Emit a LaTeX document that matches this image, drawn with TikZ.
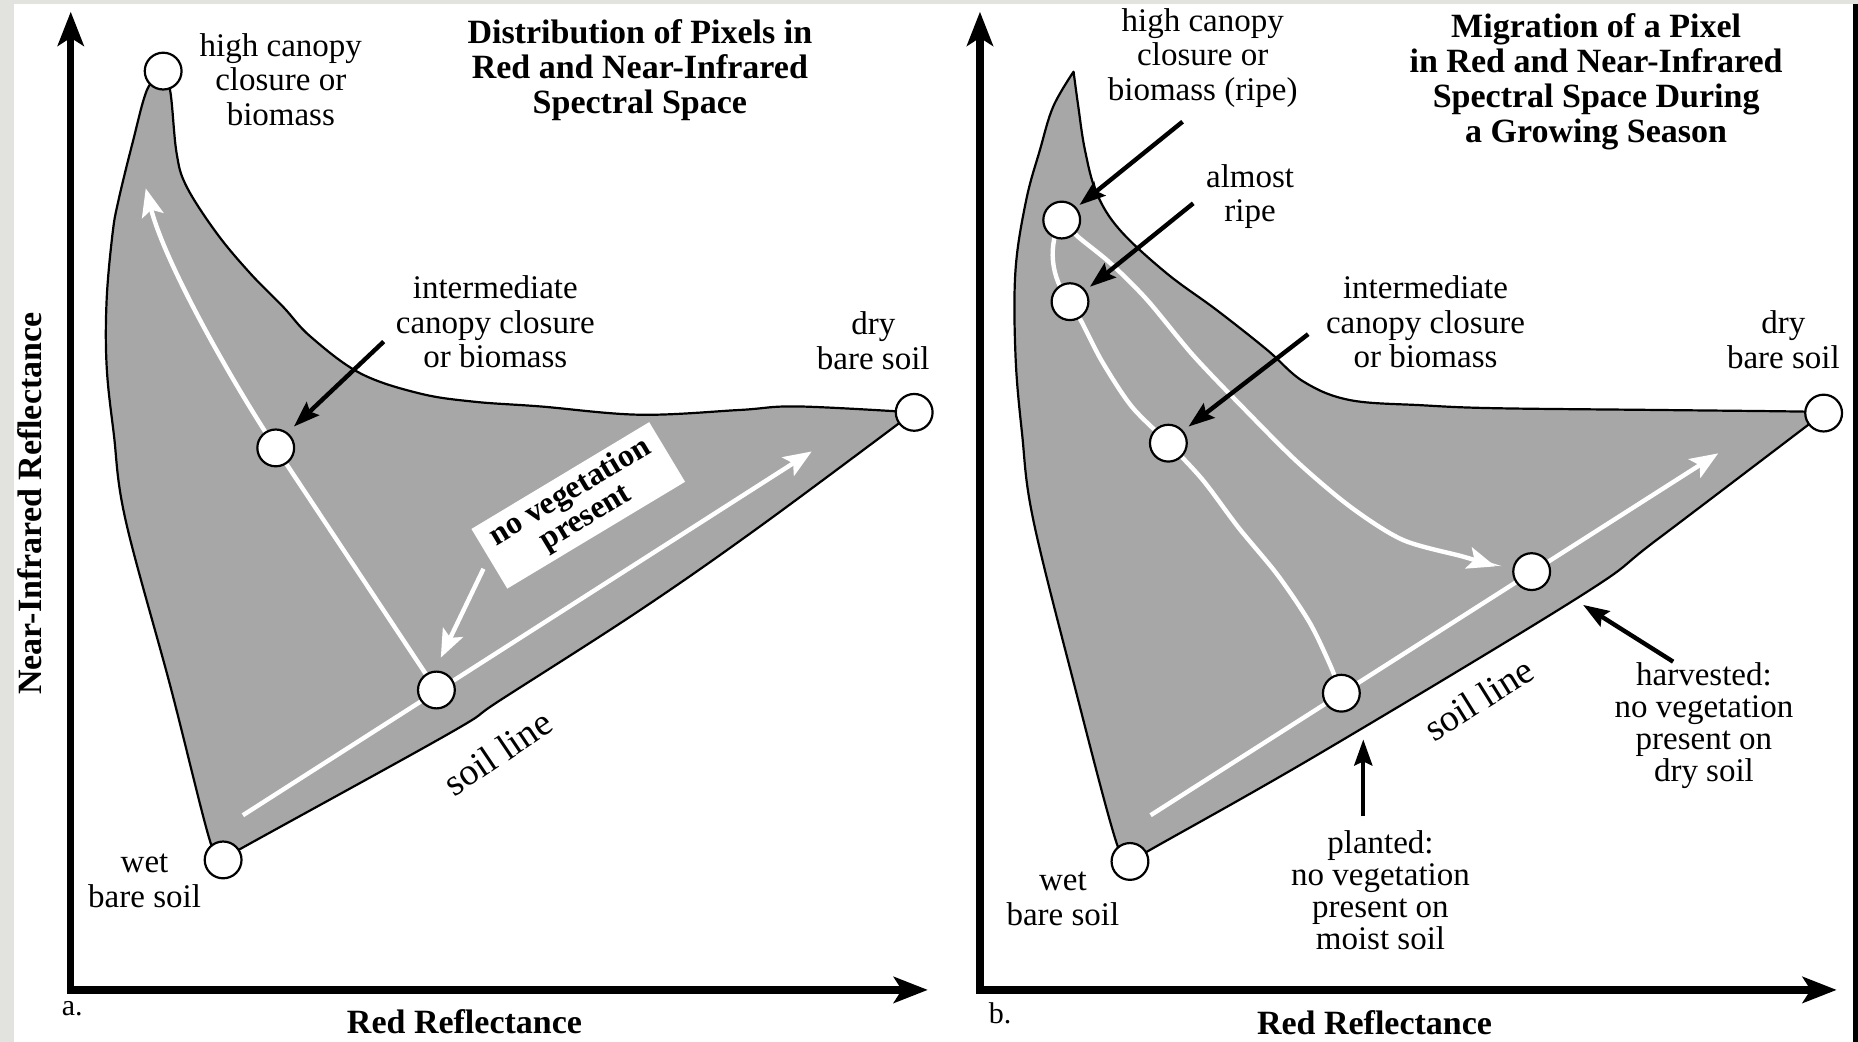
\documentclass[tikz,border=0pt]{standalone}
\usepackage{fontspec}
\setmainfont{Liberation Serif}
\usetikzlibrary{arrows.meta}
\definecolor{bgout}{RGB}{226,226,223}
\definecolor{regiongray}{RGB}{167,167,167}
\begin{document}
\begin{tikzpicture}[x=0.5925pt,y=-0.5925pt,
  axis/.style={line width=3.6pt, line join=miter, {Stealth[length=17pt,width=13pt,inset=4pt]}-{Stealth[length=17pt,width=13pt,inset=4pt]}},
  region/.style={fill=regiongray, draw=black, line width=1.1pt, line join=round},
  pt/.style={circle, draw=black, fill=white, line width=1.1pt, minimum size=18.4pt, inner sep=0pt},
  wline/.style={draw=white, line width=2.2pt},
  warrow/.style={wline, -{Stealth[length=14pt,width=11pt,inset=3pt]}},
  barrow/.style={draw=black, line width=2.2pt, -{Stealth[length=13pt,width=9pt,inset=2pt]}},
  lbl/.style={font=\fontsize{16.5}{17.3}\selectfont, align=center, inner sep=0pt},
  lbls/.style={font=\fontsize{16.5}{16}\selectfont, align=center, inner sep=0pt},
  ttl/.style={font=\bfseries\fontsize{17}{17.5}\selectfont, align=center, inner sep=0pt},
  axlbl/.style={font=\bfseries\fontsize{17}{18}\selectfont, inner sep=0pt},
  soiltxt/.style={font=\fontsize{19}{20}\selectfont, inner sep=0pt},
  small/.style={font=\fontsize{15}{16}\selectfont, inner sep=0pt},
  vegbox/.style={fill=white, draw=none, minimum width=103.7pt, minimum height=34.8pt, inner sep=0pt, align=center, font=\bfseries\fontsize{16}{15}\selectfont},
]
\useasboundingbox (0,0) rectangle (1568,879);
% background
\fill[bgout] (0,0) rectangle (1568,879);
\fill[white] (11.8,3.4) rectangle (1563.7,879);
\fill[black] (1563.7,3.4) rectangle (1568,879);

%================ LEFT PANEL =================
\draw[region] plot[smooth, tension=0.6] coordinates {(136,62) (143.5,76) (149,129) (157.5,157.5) (183,197) (211,230.5) (239,259) (262,284) (304,315) (354,332) (400,339) (456,343) (540,350) (624,346) (673,343) (771,348)}
  -- plot[smooth, tension=0.6] coordinates {(771,348) (641,444.5) (540,515) (422,591) (379,619) (200,718) (188,726)}
  -- plot[smooth, tension=0.6] coordinates {(188,726) (177,709) (144,580) (106,439) (96,366) (90,309) (90,253) (95,197) (100,169) (112,120) (124,76) (136,62)} -- cycle;

% axes
\coordinate (yTopL) at (59.7,9.9);
\coordinate (origL) at (59.7,835.4);
\coordinate (xEndL) at (783,835.4);
\draw[axis] (yTopL) -- (origL) -- (xEndL);

% points
\coordinate (highLc) at (137.7,60);
\coordinate (intLc) at (232.7,378);
\coordinate (soilLc) at (368.3,582.3);
\coordinate (tipL) at (123,159);
\coordinate (slL0) at (205,688);
\coordinate (slL1) at (685,381);
\coordinate (vegArr0) at (408,480);
\coordinate (vegArr1) at (372,555);

% white lines
\draw[wline] (soilLc) -- (intLc);
\draw[warrow] (intLc) .. controls (199.5,328) and (140,225) .. (tipL);
\draw[warrow] (slL0) -- (slL1);
\draw[warrow] (vegArr0) -- (vegArr1);

\node[pt] (highL) at (highLc) {};
\node[pt] (intL) at (intLc) {};
\node[pt] (soilL) at (soilLc) {};
\node[pt] (wetL) at (188.3,725.7) {};
\node[pt] (dryL) at (771.5,348) {};

\node[vegbox, rotate=31] (veg) at (488,426.5) {no vegetation\\present};

% black arrow
\coordinate (bL0) at (323.8,288.3);
\coordinate (bL1) at (248,360);
\draw[barrow] (bL0) -- (bL1);

% labels
\node[ttl] (titleL) at (540,59.5) {Distribution of Pixels in\\Red and Near-Infrared\\Spectral Space};
\node[lbl] (lHigh) at (237,67) {high canopy\\closure or\\biomass};
\node[lbl] (lInt) at (418,271.5) {intermediate\\canopy closure\\or biomass};
\node[lbl] (lDry) at (737,287.5) {dry\\bare soil};
\node[lbl] (lWet) at (122,743.5) {wet\\bare soil};
\node[soiltxt, rotate=34] (lSoil) at (420,635) {soil line};
\node[small] (la) at (61,851) {a.};
\node[axlbl] (lxl) at (392,862) {Red Reflectance};
\node[axlbl, rotate=90] (lyl) at (25,425) {Near-Infrared Reflectance};

%================ RIGHT PANEL =================
\draw[region] plot[smooth, tension=0.6] coordinates {(906,60.5) (910,90) (915.6,126.6) (925.5,163) (945,194) (984.5,230.6) (1026.7,261.6) (1069,295) (1100,322) (1139,337.6) (1200,342) (1262,344.5) (1400,346) (1524,347.4) (1539,348.6)}
  -- plot[smooth, tension=0.6] coordinates {(1539,348.6) (1398,455.7) (1333,503.5) (1114,635.7) (971,717) (953.6,727)}
  -- plot[smooth, tension=0.6] coordinates {(953.6,727) (941.5,709) (907,579.5) (872,438.8) (862.5,365.6) (857,300) (857,228) (866,169) (877.6,126.6) (888.8,90) (906,60.5)} -- cycle;

\coordinate (yTopR) at (827,9.9);
\coordinate (origR) at (827,835.4);
\coordinate (xEndR) at (1550,835.4);
\draw[axis] (yTopR) -- (origR) -- (xEndR);

\coordinate (ripeRc) at (896,185.7);
\coordinate (almostRc) at (903,254.6);
\coordinate (intRc) at (986,374);
\coordinate (harvRc) at (1292.6,482.4);
\coordinate (plantRc) at (1132,585);
\coordinate (slR0) at (971,688);
\coordinate (slR1) at (1450,382.6);

\draw[wline] (ripeRc) .. controls (884,205) and (886,235) .. (almostRc);
\draw[wline] plot[smooth] coordinates {(903,254.6) (913,272) (930,305) (955,343) (986,374) (1015,405) (1045,445) (1078,485) (1105,525) (1122,560) (1132,585)};
\draw[warrow] plot[smooth] coordinates {(896,185.7) (910,200) (937,222) (968,253) (1007,300) (1050,345) (1095,390) (1140,428) (1184,455.7) (1235,469.8) (1262,478)};
\draw[warrow] (slR0) -- (slR1);

\node[pt] (ripeR) at (ripeRc) {};
\node[pt] (almostR) at (almostRc) {};
\node[pt] (intR) at (intRc) {};
\node[pt] (harvR) at (harvRc) {};
\node[pt] (plantR) at (plantRc) {};
\node[pt] (wetR) at (953.6,727) {};
\node[pt] (dryR) at (1539,348.6) {};

\coordinate (bR1a) at (998,102.7);  \coordinate (bR1b) at (911,173);
\coordinate (bR2a) at (1007,171.6); \coordinate (bR2b) at (919.8,242);
\coordinate (bR3a) at (1104,282);   \coordinate (bR3b) at (1003,360);
\coordinate (bR4a) at (1150.5,689); \coordinate (bR4b) at (1150.5,624);
\coordinate (bR5a) at (1412,558.4); \coordinate (bR5b) at (1336,510.5);
\draw[barrow] (bR1a) -- (bR1b);
\draw[barrow] (bR2a) -- (bR2b);
\draw[barrow] (bR3a) -- (bR3b);
\draw[barrow] (bR4a) -- (bR4b);
\draw[barrow] (bR5a) -- (bR5b);

\node[ttl] (titleR) at (1347,68.7) {Migration of a Pixel\\in Red and Near-Infrared\\Spectral Space During\\a Growing Season};
\node[lbl] (rHigh) at (1015,49) {high canopy\\closure or\\biomass (ripe)};
\node[lbl] (rAlmost) at (1055,166) {almost\\ripe};
\node[lbl] (rInt) at (1203,271.5) {intermediate\\canopy closure\\or biomass};
\node[lbl] (rDry) at (1505,286.5) {dry\\bare soil};
\node[lbl] (rWet) at (897,758.5) {wet\\bare soil};
\node[lbls] (rPlant) at (1165,751.5) {planted:\\no vegetation\\present on\\moist soil};
\node[lbls] (rHarv) at (1438,612.5) {harvested:\\no vegetation\\present on\\dry soil};
\node[soiltxt, rotate=32] (rSoil) at (1248,590) {soil line};
\node[small] (rb) at (844,855) {b.};
\node[axlbl] (rxl) at (1160,863) {Red Reflectance};
\end{tikzpicture}
\end{document}
